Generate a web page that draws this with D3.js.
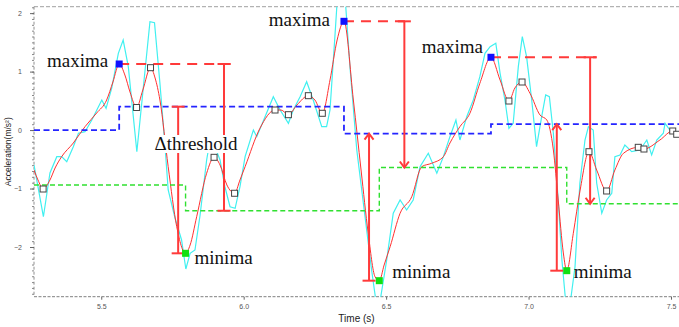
<!DOCTYPE html>
<html><head><meta charset="utf-8">
<script src="https://cdn.jsdelivr.net/npm/d3@7"></script>
<style>html,body{margin:0;padding:0;background:#fff;} svg{display:block;}</style>
</head><body>
<svg id="chart" width="679" height="327"></svg>
<script>
// Smoothed acceleration (red) sampled at the listed times (s)
const smoothT = [5.264,5.278,5.296,5.320,5.338,5.361,5.402,5.443,5.484,5.519,5.541,5.563,5.583,5.601,5.624,5.646,5.673,5.689,5.706,5.735,
  5.765,5.796,5.812,5.835,5.870,5.896,5.917,5.941,5.968,5.987,6.005,6.057,6.110,6.131,6.157,6.187,6.227,6.250,6.276,6.303,
  6.328,6.352,6.385,6.412,6.437,6.461,6.476,6.493,6.514,6.549,6.590,6.625,6.660,6.701,6.724,6.759,6.794,6.829,6.868,6.900,
  6.931,6.952,6.977,7.005,7.040,7.064,7.087,7.104,7.122,7.134,7.157,7.181,7.212,7.239,7.274,7.303,7.333,7.385,7.405,7.461,
  7.506,7.520,7.528];
const smoothV = [-0.683,-0.854,-1.008,-0.854,-0.649,-0.455,-0.221,0.058,0.292,0.514,0.822,1.130,0.942,0.651,0.386,0.685,1.067,0.891,0.514,-0.626,
  -1.653,-2.108,-1.966,-1.482,-0.739,-0.466,-0.597,-0.939,-1.081,-0.854,-0.626,0.030,0.343,0.343,0.263,0.429,0.588,0.514,0.287,0.856,
  1.540,1.860,0.514,-0.683,-1.760,-2.508,-2.576,-2.308,-1.995,-1.423,-1.140,-0.626,-0.568,-0.455,-0.221,0.058,0.287,0.800,1.245,0.856,
  0.497,0.720,0.822,0.629,0.258,0.172,-0.341,-1.196,-2.102,-2.405,-1.766,-1.025,-0.370,-0.683,-1.042,-0.683,-0.397,-0.295,-0.324,-0.170,
  -0.016,-0.072,-0.067];

// Raw acceleration (cyan)
const rawT = [5.264,5.297,5.320,5.344,5.361,5.379,5.402,5.420,5.443,5.467,5.502,5.517,5.537,5.560,5.577,5.595,5.625,5.671,5.687,5.706,
  5.724,5.735,5.759,5.782,5.797,5.812,5.829,5.847,5.870,5.878,5.899,5.917,5.934,5.952,5.970,5.987,6.005,6.034,6.046,6.075,
  6.104,6.128,6.157,6.174,6.198,6.221,6.244,6.274,6.291,6.303,6.321,6.342,6.373,6.397,6.426,6.449,6.471,6.502,6.525,6.549,
  6.572,6.595,6.619,6.648,6.678,6.701,6.724,6.745,6.759,6.783,6.806,6.829,6.847,6.865,6.885,6.900,6.917,6.931,6.946,6.964,
  6.978,6.993,7.011,7.028,7.046,7.060,7.073,7.087,7.104,7.117,7.137,7.163,7.180,7.198,7.210,7.227,7.239,7.257,7.274,7.292,
  7.303,7.321,7.338,7.362,7.391,7.415,7.432,7.450,7.473,7.479,7.496,7.514,7.528];
const rawV = [-0.597,-1.482,-0.734,-0.455,-0.455,-0.541,-0.284,-0.055,-0.028,0.172,0.514,0.372,0.720,1.313,1.540,1.084,-0.370,1.853,1.836,0.800,
  -0.284,-1.025,-1.504,-1.880,-2.376,-2.108,-2.051,-1.453,-0.512,-0.284,-0.284,-0.512,-0.969,-1.311,-1.338,-0.969,-0.455,0.000,-0.113,0.229,
  0.571,0.343,0.116,0.343,0.571,0.827,0.514,0.058,0.058,0.343,1.660,3.250,1.084,-0.341,-1.482,-2.393,-3.160,-2.222,-1.423,-1.196,
  -1.367,-1.196,-0.626,-0.397,-0.739,-0.455,-0.113,0.172,-0.170,0.229,0.514,0.913,1.313,1.426,1.484,0.971,0.514,0.030,0.116,1.084,
  1.597,1.255,0.514,-0.284,0.229,0.600,0.571,-0.055,-1.196,-2.222,-3.300,-2.337,-0.910,-0.170,0.058,0.001,-0.905,-1.423,-1.196,-1.081,
  -0.455,-0.426,-0.255,-0.370,-0.341,-0.170,-0.426,-0.170,-0.055,0.116,0.001,-0.028,-0.050];

// Indices into the smoothed series
const candidateIdx = [2,14,16,25,28,32,34,36,38,60,62,72,74,77,78,80,81];
const maximaIdx = [11,41,58];
const minimaIdx = [21,46,69];

// Adaptive thresholds: upper level changes at each maximum, lower at each minimum
const upperLevels = [0.00,0.40,-0.06,0.10];
const lowerLevels = [-0.94,-1.38,-0.64,-1.26];

// Times of the Δthreshold bars
const maxBarT = [5.931,6.564,7.216];
const minBarT = [5.770,6.440,7.099];

const xTicks = [5.5,6.0,6.5,7.0,7.5];
const yTicks = [-2,-1,0,1,2];

const svg = d3.select('#chart');
const pL = 34, pR = 679, pT = 6.7, pB = 296.7;
const x = d3.scaleLinear().domain([5.264,7.528]).range([pL,pR]);
const y = d3.scaleLinear().domain([-2.85,2.11]).range([pB,pT]);

svg.append('defs').append('clipPath').attr('id','plot')
  .append('rect').attr('x',pL).attr('y',pT).attr('width',pR-pL).attr('height',pB-pT);

// frame
svg.append('line').attr('x1',pL).attr('x2',pR).attr('y1',pT).attr('y2',pT)
  .attr('stroke','#a0a0a0').attr('stroke-width',1).attr('stroke-dasharray','4,2');
svg.append('line').attr('x1',pL).attr('x2',pR).attr('y1',pB).attr('y2',pB)
  .attr('stroke','#808080').attr('stroke-width',1).attr('stroke-dasharray','3,1.5');
svg.append('line').attr('x1',pL).attr('x2',pL).attr('y1',pT).attr('y2',pB)
  .attr('stroke','#909090').attr('stroke-width',1).attr('stroke-dasharray','3,2');

// axes
const font = 'Liberation Sans, Arial, sans-serif';
const gx = svg.append('g').attr('transform',`translate(0,${pB})`)
  .call(d3.axisBottom(x).tickValues(xTicks).tickFormat(d3.format('.1f')).tickSize(3).tickPadding(4));
gx.select('.domain').remove();
gx.selectAll('line').attr('stroke','#666');
gx.selectAll('text').attr('fill','#555').style('font-family',font).style('font-size','7px');

const minor = d3.range(-28,22).map(d => d/10);
const gyMinor = svg.append('g').attr('transform',`translate(${pL},0)`)
  .call(d3.axisLeft(y).tickValues(minor).tickSize(2).tickFormat(''));
gyMinor.select('.domain').remove();
gyMinor.selectAll('line').attr('stroke','#888');
const gy = svg.append('g').attr('transform',`translate(${pL},0)`)
  .call(d3.axisLeft(y).tickValues(yTicks).tickSize(4).tickPadding(8).tickFormat(d3.format('d')));
gy.select('.domain').remove();
gy.selectAll('line').attr('stroke','#666');
gy.selectAll('text').attr('fill','#555').style('font-family',font).style('font-size','7px');

svg.append('text').attr('x',(pL+pR)/2).attr('y',322)
  .attr('text-anchor','middle').attr('fill','#222')
  .style('font-family',font).style('font-size','10px').text('Time (s)');
svg.append('text').attr('transform',`translate(11,${(pT+pB)/2}) rotate(-90)`)
  .attr('text-anchor','middle').attr('fill','#222')
  .style('font-family',font).style('font-size','8.5px').text('Acceleration(m/s²)');

const plot = svg.append('g').attr('clip-path','url(#plot)');

const raw = rawT.map((t,i) => [t, rawV[i]]);
const smooth = smoothT.map((t,i) => [t, smoothV[i]]);

plot.append('path').datum(raw)
  .attr('d', d3.line().x(d => x(d[0])).y(d => y(d[1])))
  .attr('fill','none').attr('stroke','#40f0f0').attr('stroke-width',1.2);
plot.append('path').datum(smooth)
  .attr('d', d3.line().x(d => x(d[0])).y(d => y(d[1])).curve(d3.curveMonotoneX))
  .attr('fill','none').attr('stroke','#ff3030').attr('stroke-width',1);

// threshold step lines
function stepLine(levels, idx) {
  const pts = [];
  let t0 = x.domain()[0];
  levels.forEach((lv,i) => {
    const t1 = i < idx.length ? smoothT[idx[i]] : x.domain()[1];
    pts.push([t0, lv], [t1, lv]);
    t0 = t1;
  });
  return pts;
}
plot.append('path').datum(stepLine(upperLevels, maximaIdx))
  .attr('d', d3.line().x(d => x(d[0])).y(d => y(d[1])))
  .attr('fill','none').attr('stroke','#2424ff').attr('stroke-width',1.8).attr('stroke-dasharray','6,3.5');
plot.append('path').datum(stepLine(lowerLevels, minimaIdx))
  .attr('fill','none').attr('d', d3.line().x(d => x(d[0])).y(d => y(d[1])))
  .attr('stroke','#30e030').attr('stroke-width',1.4).attr('stroke-dasharray','5,3');

// Δthreshold bars
const red = '#ff3a3a';
const cap = 6.5;
const ann = svg.append('g');
function bar(t, vFrom, vTo, arrow) {
  const bx = x(t), y0 = y(vFrom), y1 = y(vTo);
  ann.append('line').attr('x1',bx).attr('x2',bx).attr('y1',y0).attr('y2',y1)
    .attr('stroke',red).attr('stroke-width',2);
  ann.append('line').attr('x1',bx-cap).attr('x2',bx+cap).attr('y1',y0).attr('y2',y0)
    .attr('stroke',red).attr('stroke-width',2);
  if (arrow) {
    const dir = y1 > y0 ? -1 : 1;
    ann.append('path').attr('d',`M${bx-4.5},${y1+dir*6}L${bx},${y1}L${bx+4.5},${y1+dir*6}`)
      .attr('fill','none').attr('stroke',red).attr('stroke-width',2);
  } else {
    ann.append('line').attr('x1',bx-cap).attr('x2',bx+cap).attr('y1',y1).attr('y2',y1)
      .attr('stroke',red).attr('stroke-width',2);
  }
}
maximaIdx.forEach((k,i) => {
  ann.append('line').attr('x1',x(smoothT[k])).attr('x2',x(maxBarT[i])+cap)
    .attr('y1',y(smoothV[k])).attr('y2',y(smoothV[k]))
    .attr('stroke',red).attr('stroke-width',2).attr('stroke-dasharray','10,7');
  bar(maxBarT[i], smoothV[k], lowerLevels[i+1], i > 0);
});
minimaIdx.forEach((k,i) => {
  bar(minBarT[i], smoothV[k], upperLevels[i+1], i > 0);
});

// markers
const mk = svg.append('g');
mk.selectAll('rect.c').data(candidateIdx).join('rect')
  .attr('x', k => x(smoothT[k]) - 3).attr('y', k => y(smoothV[k]) - 3)
  .attr('width',6).attr('height',6)
  .attr('fill','#fff').attr('stroke','#444').attr('stroke-width',1);
mk.selectAll('rect.mx').data(maximaIdx).join('rect')
  .attr('x', k => x(smoothT[k]) - 3.5).attr('y', k => y(smoothV[k]) - 3.5)
  .attr('width',7).attr('height',7).attr('fill','#1010ff');
mk.selectAll('rect.mn').data(minimaIdx).join('rect')
  .attr('x', k => x(smoothT[k]) - 3.5).attr('y', k => y(smoothV[k]) - 3.5)
  .attr('width',7).attr('height',7).attr('fill','#10e010');

// text labels
const serif = 'Liberation Serif, Times New Roman, serif';
const txt = svg.append('g').style('font-family',serif).style('font-size','19px').attr('fill','#111');
const maxOffsets = [[-11,3],[-14,5],[-8,-4]];
const minOffsets = [[9,11],[13,-3],[7,7]];
maximaIdx.forEach((k,i) => {
  txt.append('text').attr('x', x(smoothT[k]) + maxOffsets[i][0]).attr('y', y(smoothV[k]) + maxOffsets[i][1])
    .attr('text-anchor','end').text('maxima');
});
minimaIdx.forEach((k,i) => {
  txt.append('text').attr('x', x(smoothT[k]) + minOffsets[i][0]).attr('y', y(smoothV[k]) + minOffsets[i][1])
    .attr('text-anchor','start').text('minima');
});
const dMid = (maxBarT[0] + minBarT[0]) / 2;
const dg = svg.append('g');
const dt = dg.append('text').attr('x', x(dMid) - 5).attr('y', 150)
  .attr('text-anchor','middle').attr('fill','#111')
  .style('font-family',serif).style('font-size','19px').text('Δthreshold');
const bb = dt.node().getBBox();
dg.insert('rect','text').attr('x',bb.x-1).attr('y',bb.y+2).attr('width',bb.width+2).attr('height',bb.height-3)
  .attr('fill','#fff');
</script></body></html>
